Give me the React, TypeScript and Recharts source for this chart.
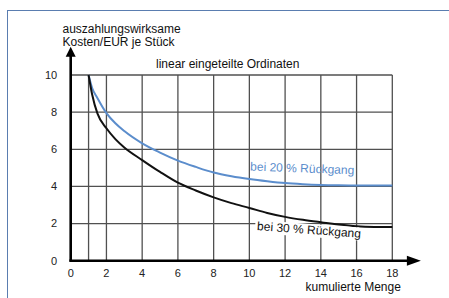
import React from 'react';
import {
  LineChart,
  Line,
  XAxis,
  YAxis,
  CartesianGrid,
  ReferenceLine,
  ReferenceDot,
  Customized,
} from 'recharts';

// ---- data ----
const quantities = [1, 1.2, 1.5, 2, 2.5, 3, 4, 5, 6, 7, 8, 9, 10, 11, 12, 13, 14, 15, 16, 17, 18];
const cost20 = [10, 9.3, 8.75, 7.95, 7.4, 6.98, 6.32, 5.82, 5.39, 5.05, 4.75, 4.55, 4.4, 4.28, 4.18, 4.12, 4.08, 4.06, 4.05, 4.05, 4.05];
const cost30 = [10, 8.95, 7.92, 7.13, 6.55, 6.1, 5.42, 4.78, 4.2, 3.78, 3.41, 3.1, 2.84, 2.57, 2.36, 2.2, 2.07, 1.95, 1.86, 1.82, 1.81];
const xTicks = [0, 2, 4, 6, 8, 10, 12, 14, 16, 18];
const yTicks = [0, 2, 4, 6, 8, 10];
const extraGridX = [1];
const label20 = 'bei 20 % Rückgang';
const label30 = 'bei 30 % Rückgang';
const yTitle = ['auszahlungswirksame', 'Kosten/EUR je Stück'];
const xTitle = 'kumulierte Menge';
const chartTitle = 'linear eingeteilte Ordinaten';

const data = quantities.map((q, i) => ({ q, c20: cost20[i], c30: cost30[i] }));

const FONT = "'Liberation Sans', Arial, Helvetica, sans-serif";
const BLUE = '#5b8dcc';
const GRID = '#505050';

const ArrowRight = (p: any) => {
  const { cx, cy } = p;
  return <polygon points={`${cx},${cy} ${cx - 14},${cy - 5} ${cx - 14},${cy + 5}`} fill="#000" />;
};
const ArrowUp = (p: any) => {
  const { cx, cy } = p;
  return <polygon points={`${cx},${cy} ${cx - 5},${cy + 10} ${cx + 5},${cy + 10}`} fill="#000" />;
};

const Label20 = (p: any) => {
  const { cx, cy } = p;
  return (
    <text x={cx} y={cy} transform={`rotate(2 ${cx} ${cy})`} fill={BLUE} fontSize={12} fontFamily={FONT}>
      {label20}
    </text>
  );
};
const Label30 = (p: any) => {
  const { cx, cy } = p;
  return (
    <g transform={`rotate(4.2 ${cx} ${cy})`}>
      <rect x={cx - 2} y={cy - 10} width={104} height={13} fill="#fff" />
      <text x={cx} y={cy} fill="#111" fontSize={12} fontFamily={FONT}>
        {label30}
      </text>
    </g>
  );
};

const Titles = () => (
  <g fontFamily={FONT} fontSize={12} fill="#111">
    <text x={62.5} y={32.5}>{yTitle[0]}</text>
    <text x={62.5} y={45.5}>{yTitle[1]}</text>
    <text x={156} y={68.3}>{chartTitle}</text>
    <text x={305.5} y={290.5}>{xTitle}</text>
  </g>
);

export default function App() {
  return (
    <div style={{ position: 'absolute', left: 0, top: 0, width: 449, height: 298, background: '#fff' }}>
      <div
        style={{
          position: 'absolute',
          left: 7,
          top: 10,
          width: 442,
          height: 288,
          borderLeft: '1px solid #5a7db0',
          borderTop: '1px solid #5a7db0',
        }}
      />
      <div style={{ position: 'absolute', left: 0, top: 0 }}>
        <LineChart
          width={449}
          height={298}
          data={data}
          margin={{ top: 75, right: 56.7, bottom: 7.3, left: 30.7 }}
          style={{ fontFamily: FONT }}
        >
          <CartesianGrid stroke={GRID} strokeWidth={1.3} />
          {extraGridX.map((x) => (
            <ReferenceLine key={x} x={x} stroke={GRID} strokeWidth={1.3} />
          ))}
          <XAxis
            dataKey="q"
            type="number"
            domain={[0, 18]}
            ticks={xTicks}
            interval={0}
            axisLine={false}
            tickLine={false}
            tickSize={0}
            tickMargin={8.5}
            height={30}
            tick={{ fontSize: 11, fill: '#222', fontFamily: FONT }}
          />
          <YAxis
            type="number"
            domain={[0, 10]}
            ticks={yTicks}
            interval={0}
            axisLine={false}
            tickLine={false}
            tickSize={0}
            tickMargin={13.5}
            width={40}
            tick={{ fontSize: 11, fill: '#222', fontFamily: FONT }}
          />
          <ReferenceDot x={10.04} y={4.85} r={1} ifOverflow="visible" shape={Label20} />
          <ReferenceDot x={10.42} y={1.65} r={1} ifOverflow="visible" shape={Label30} />
          <Line
            type="monotone"
            dataKey="c20"
            stroke={BLUE}
            strokeWidth={2}
            dot={false}
            isAnimationActive={false}
          />
          <Line
            type="monotone"
            dataKey="c30"
            stroke="#111"
            strokeWidth={2}
            dot={false}
            isAnimationActive={false}
          />
          <ReferenceLine
            segment={[{ x: -0.08, y: 0 }, { x: 19.0, y: 0 }]}
            stroke="#000"
            strokeWidth={2.6}
            ifOverflow="visible"
          />
          <ReferenceLine
            segment={[{ x: 0, y: 0 }, { x: 0, y: 11.1 }]}
            stroke="#000"
            strokeWidth={2.6}
            ifOverflow="visible"
          />
          <ReferenceDot x={19.6} y={0} r={1} ifOverflow="visible" shape={ArrowRight} />
          <ReferenceDot x={0} y={11.52} r={1} ifOverflow="visible" shape={ArrowUp} />
          <Customized component={Titles} />
        </LineChart>
      </div>
    </div>
  );
}
